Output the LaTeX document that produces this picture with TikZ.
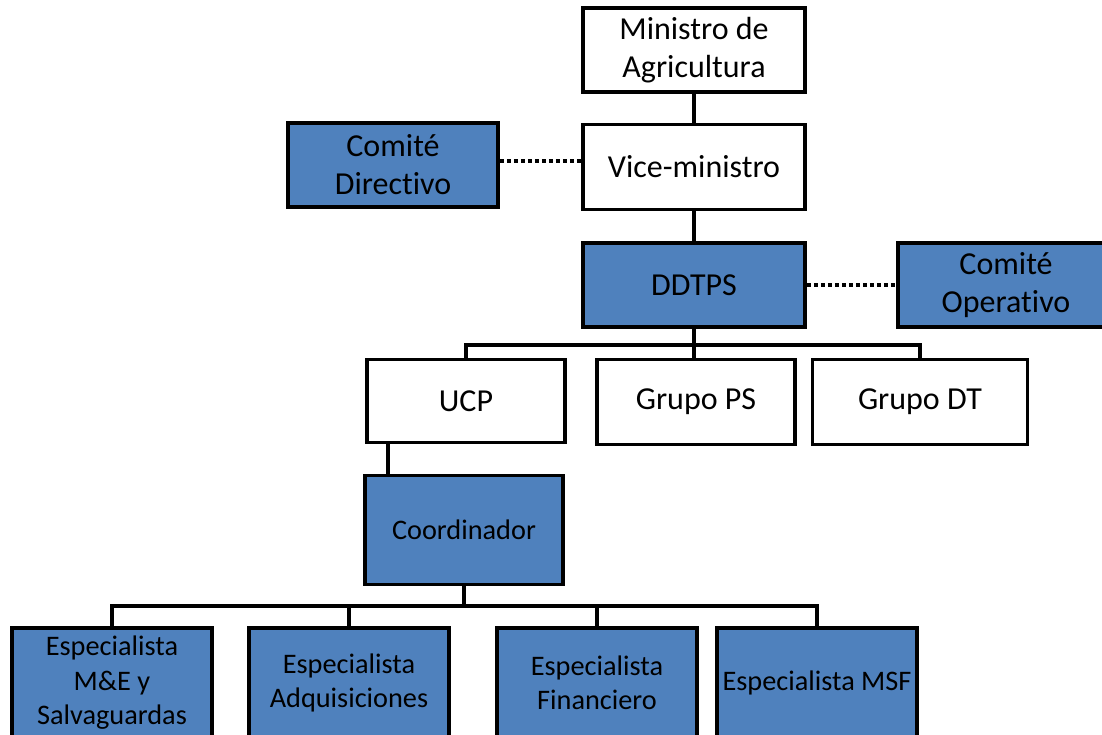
\documentclass[tikz,border=0pt]{standalone}
\usepackage{fontspec}
\setmainfont{Carlito}[Ligatures=NoCommon]
\definecolor{boxblue}{HTML}{4F81BD}
\begin{document}
\begin{tikzpicture}[x=1pt,y=-1pt,
  orgbox/.style={draw=black, line width=3.5pt, fill=white, inner sep=0pt, align=center,
    font=\fontsize{32}{38}\selectfont},
  bluebox/.style={orgbox, fill=boxblue},
  specbox/.style={bluebox, minimum width=200pt, minimum height=110pt,
    font=\fontsize{28.3}{34.5}\selectfont},
  conn/.style={draw=black, line width=3.5pt},
  dotline/.style={draw=black, line width=4.5pt, dash pattern=on 4pt off 3pt}]
\useasboundingbox (0,0) rectangle (1102,735);
\clip (0,0) rectangle (1102,735);
\fill[white] (0,0) rectangle (1102,735);

\node[orgbox, minimum width=222pt, minimum height=84pt] (min) at (694,50) {Ministro de\\Agricultura};
\node[orgbox, minimum width=222pt, minimum height=85pt] (vice) at (694,167) {Vice-ministro};
\node[bluebox, minimum width=210pt, minimum height=84pt] (cdir) at (393,165) {Comité\\Directivo};
\node[bluebox, minimum width=222pt, minimum height=84pt] (ddtps) at (694,285) {DDTPS};
\node[bluebox, minimum width=216pt, minimum height=84pt] (cop) at (1006,285) {Comité\\Operativo};
\node[orgbox, minimum width=198pt, minimum height=83pt] (ucp) at (466,401) {UCP};
\node[orgbox, minimum width=198pt, minimum height=85pt] (gps) at (696,402) {Grupo PS};
\node[orgbox, minimum width=215pt, minimum height=85pt] (gdt) at (920,402) {Grupo DT};
\node[bluebox, minimum width=198pt, minimum height=109pt, font=\fontsize{28.3}{34.5}\selectfont] (coord) at (464,530) {Coordinador};
\node[specbox] (e1) at (112,683) {Especialista\\M\&E y\\Salvaguardas};
\node[specbox] (e2) at (349,683) {Especialista\\Adquisiciones};
\node[specbox] (e3) at (597,683) {Especialista\\Financiero};
\node[specbox] (e4) at (817,683) {Especialista MSF};

\coordinate (dl1) at (0,161);
\coordinate (bus1) at (694,345);
\coordinate (bus2) at (464,606);
\coordinate (uc) at (388,0);

\draw[conn] (min.south) -- (vice.north);
\draw[conn] (vice.south) -- (ddtps.north);
\draw[dotline] (cdir.east |- dl1) -- (vice.west |- dl1);
\draw[dotline] (ddtps.east) -- (cop.west);
\draw[conn] (ddtps.south) -- (ddtps.south |- gps.north);
\draw[conn] (ucp.north) |- (bus1) -| (gdt.north);
\draw[conn] (ucp.south -| uc) -- (coord.north -| uc);
\draw[conn] (coord.south) -- (bus2);
\draw[conn] (e1.north) |- (bus2) -| (e4.north);
\draw[conn] (e2.north) -- (e2.north |- bus2);
\draw[conn] (e3.north) -- (e3.north |- bus2);
\end{tikzpicture}
\end{document}
